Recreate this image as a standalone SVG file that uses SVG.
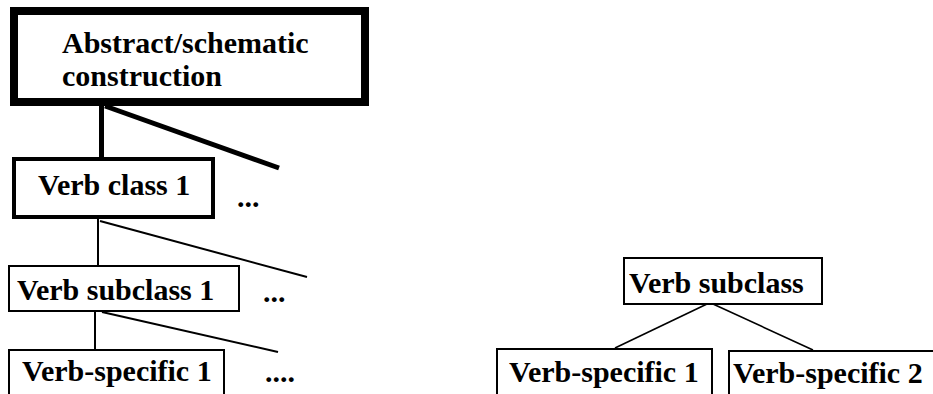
<svg xmlns="http://www.w3.org/2000/svg" width="933" height="394" viewBox="0 0 933 394">
  <style>
    .box { fill: #fff; stroke: #000; }
    .thick { stroke-width: 8; }
    .mid { stroke-width: 4; }
    .thin { stroke-width: 2; }
    text { font-family: 'Liberation Serif', Tinos, 'Noto Serif', 'DejaVu Serif', FreeSerif, 'Times New Roman', Times, serif; font-weight: 700; font-size: 30px; fill: #000; }
    .edge { stroke: #000; fill: none; }
  </style>
  <rect width="933" height="394" fill="#fff"/>

  <!-- connectors -->
  <g id="connectors">
    <line class="edge" x1="101.5" y1="104" x2="101.5" y2="158" stroke-width="5"/>
    <line class="edge" x1="105" y1="106" x2="279" y2="168" stroke-width="5"/>
    <line class="edge" x1="98" y1="218" x2="98" y2="266" stroke-width="2"/>
    <line class="edge" x1="100" y1="221" x2="307" y2="277" stroke-width="2"/>
    <line class="edge" x1="95" y1="311" x2="95" y2="351" stroke-width="2"/>
    <line class="edge" x1="102" y1="312" x2="278" y2="352" stroke-width="2"/>
    <line class="edge" x1="707" y1="304" x2="615" y2="348" stroke-width="1.6"/>
    <line class="edge" x1="713" y1="304" x2="813" y2="350" stroke-width="1.6"/>
  </g>

  <g id="abstract">
    <rect class="box thick" x="14" y="11" width="351" height="91"/>
    <text x="62" y="53" font-size="28">Abstract/schematic</text>
    <text x="62" y="86" font-size="28">construction</text>
  </g>

  <g id="verb-class-1">
    <rect class="box mid" x="14" y="159" width="199" height="58"/>
    <text x="38" y="195">Verb class 1</text>
  </g>
  <text x="237" y="207">...</text>

  <g id="verb-subclass-1">
    <rect class="box thin" x="9" y="266" width="230" height="45"/>
    <text x="17" y="300">Verb subclass 1</text>
  </g>
  <text x="263" y="302">...</text>

  <g id="verb-specific-1-left">
    <rect class="box thin" x="9" y="350" width="215" height="60"/>
    <text x="22" y="381">Verb-specific 1</text>
  </g>
  <text x="265" y="382">....</text>

  <g id="verb-subclass">
    <rect class="box thin" x="624" y="258" width="198" height="46"/>
    <text x="629" y="293">Verb subclass</text>
  </g>

  <g id="verb-specific-1-right">
    <rect class="box thin" x="497" y="349" width="215" height="60"/>
    <text x="509" y="382">Verb-specific 1</text>
  </g>

  <g id="verb-specific-2">
    <rect class="box thin" x="729" y="351" width="220" height="60"/>
    <text x="733" y="383">Verb-specific 2</text>
  </g>
</svg>
